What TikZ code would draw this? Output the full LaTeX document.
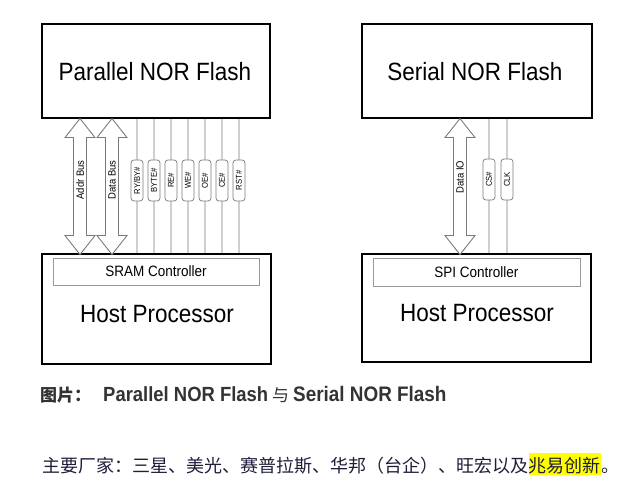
\documentclass[tikz,border=0pt]{standalone}
\usepackage{fontspec}
\setmainfont{Liberation Sans}
\newfontfamily\hv[FakeStretch=0.9]{Liberation Sans}
\newfontfamily\cjk{Noto Sans CJK SC}
\definecolor{arrowgray}{HTML}{7A7A7A}
\definecolor{siggray}{HTML}{7A7A7A}
\definecolor{sigfill}{HTML}{CFCFCF}
\definecolor{ctrlgray}{HTML}{999999}
\definecolor{captext}{HTML}{333333}
\definecolor{bodytext}{HTML}{1E1E3A}
\definecolor{hilite}{HTML}{FFFF00}
\tikzset{
  chip/.style={draw=black, line width=1.1pt, fill=white, inner sep=0pt},
  ctrl/.style={draw=ctrlgray, line width=0.8pt, inner sep=0pt, font=\hv\fontsize{15}{17}\selectfont},
  bigtext/.style={inner sep=0pt, font=\hv\fontsize{25}{28}\selectfont},
  sig/.style={draw=siggray, double=sigfill, double distance=1.3pt, line width=0.8pt},
  lbl/.style={draw=siggray, fill=white, line width=0.7pt, rounded corners=3pt,
    minimum width=41pt, minimum height=12pt, inner sep=0pt, rotate=90,
    font=\hv\fontsize{8.5}{9}\selectfont},
  buslbl/.style={inner sep=0pt, rotate=90, font=\hv\fontsize{10.5}{12}\selectfont},
  barrow/.pic={\draw[arrowgray, line width=0.9pt, fill=white, line join=miter]
    (0,0) -- (15,19) -- (6.5,19) -- (6.5,117) -- (15,117) -- (0,136)
    -- (-15,117) -- (-6.5,117) -- (-6.5,19) -- (-15,19) -- cycle;},
}
\begin{document}
\begin{tikzpicture}[x=1pt, y=-1pt]
\useasboundingbox (0,0) rectangle (633,492);
\fill[white] (0,0) rectangle (633,492);

% ---------- Parallel side ----------
\node[chip, minimum width=228pt, minimum height=94pt] (pnor) at (156,71) {};
\node[bigtext] (pnortxt) at (155,72) {Parallel NOR Flash};
\node[chip, minimum width=229pt, minimum height=110pt] (hostL) at (156.5,309) {};
\node[ctrl, minimum width=206pt, minimum height=27pt] (sram) at (156,271.5) {SRAM Controller};
\node[bigtext] (hostLtxt) at (157,314) {Host Processor};

\coordinate (a1) at (80,180);
\coordinate (a2) at (112,180);
\pic at (pnor.south -| a1) {barrow};
\pic at (pnor.south -| a2) {barrow};
\node[buslbl] (addr) at (a1) {Addr Bus};
\node[buslbl] (data) at (a2) {Data Bus};

\foreach \n/\x in {s1/137, s2/154, s3/171, s4/188, s5/205, s6/222, s7/239}{
  \coordinate (\n) at (\x,180.5);
  \draw[sig] (pnor.south -| \n) -- (hostL.north -| \n);
}
\node[lbl] (l1) at (s1) {RY/BY\#};
\node[lbl] (l2) at (s2) {BYTE\#};
\node[lbl] (l3) at (s3) {RE\#};
\node[lbl] (l4) at (s4) {WE\#};
\node[lbl] (l5) at (s5) {OE\#};
\node[lbl] (l6) at (s6) {CE\#};
\node[lbl] (l7) at (s7) {RST\#};

% ---------- Serial side ----------
\node[chip, minimum width=230pt, minimum height=94pt] (snor) at (477,71) {};
\node[bigtext] (snortxt) at (475,72) {Serial NOR Flash};
\node[chip, minimum width=229pt, minimum height=108pt] (hostR) at (476.5,308) {};
\node[ctrl, minimum width=207pt, minimum height=28pt] (spi) at (476.5,272) {SPI Controller};
\node[bigtext] (hostRtxt) at (477,313) {Host Processor};

\coordinate (a3) at (460,177);
\pic at (snor.south -| a3) {barrow};
\node[buslbl] (dio) at (a3) {Data IO};

\foreach \n/\x in {t1/489, t2/507}{
  \coordinate (\n) at (\x,179.5);
  \draw[sig] (snor.south -| \n) -- (hostR.north -| \n);
}
\node[lbl] (m1) at (t1) {CS\#};
\node[lbl] (m2) at (t2) {CLK};

% ---------- Caption ----------
\node[anchor=base west, inner sep=0pt, text=captext, font=\cjk\bfseries\fontsize{17}{20}\selectfont] (cap1) at (40,401) {图片：};
\node[anchor=base west, inner sep=0pt, text=captext, font=\hv\bfseries\fontsize{20.5}{24}\selectfont] (cap2) at (103,401) {Parallel NOR Flash};
\node[anchor=base west, inner sep=0pt, text=captext, font=\cjk\fontsize{17}{20}\selectfont] (cap3) at (272,401) {与};
\node[anchor=base west, inner sep=0pt, text=captext, font=\hv\bfseries\fontsize{21}{24}\selectfont] (cap4) at (293,401) {Serial NOR Flash};

% ---------- Bottom line ----------
\node[anchor=base west, inner sep=0pt, text=bodytext, font=\cjk\fontsize{18}{20}\selectfont] (b1) at (42,472) {主要厂家：三星、美光、赛普拉斯、华邦（台企）、旺宏以及};
\node[anchor=base west, inner xsep=0pt, inner ysep=0pt, text height=19pt, text depth=3pt, fill=hilite, text=bodytext, font=\cjk\fontsize{18}{20}\selectfont] (b2) at (b1.base east) {兆易创新};
\node[anchor=base west, inner sep=0pt, text=bodytext, font=\cjk\fontsize{18}{20}\selectfont] (b3) at (b2.base east) {。};
\end{tikzpicture}
\end{document}
